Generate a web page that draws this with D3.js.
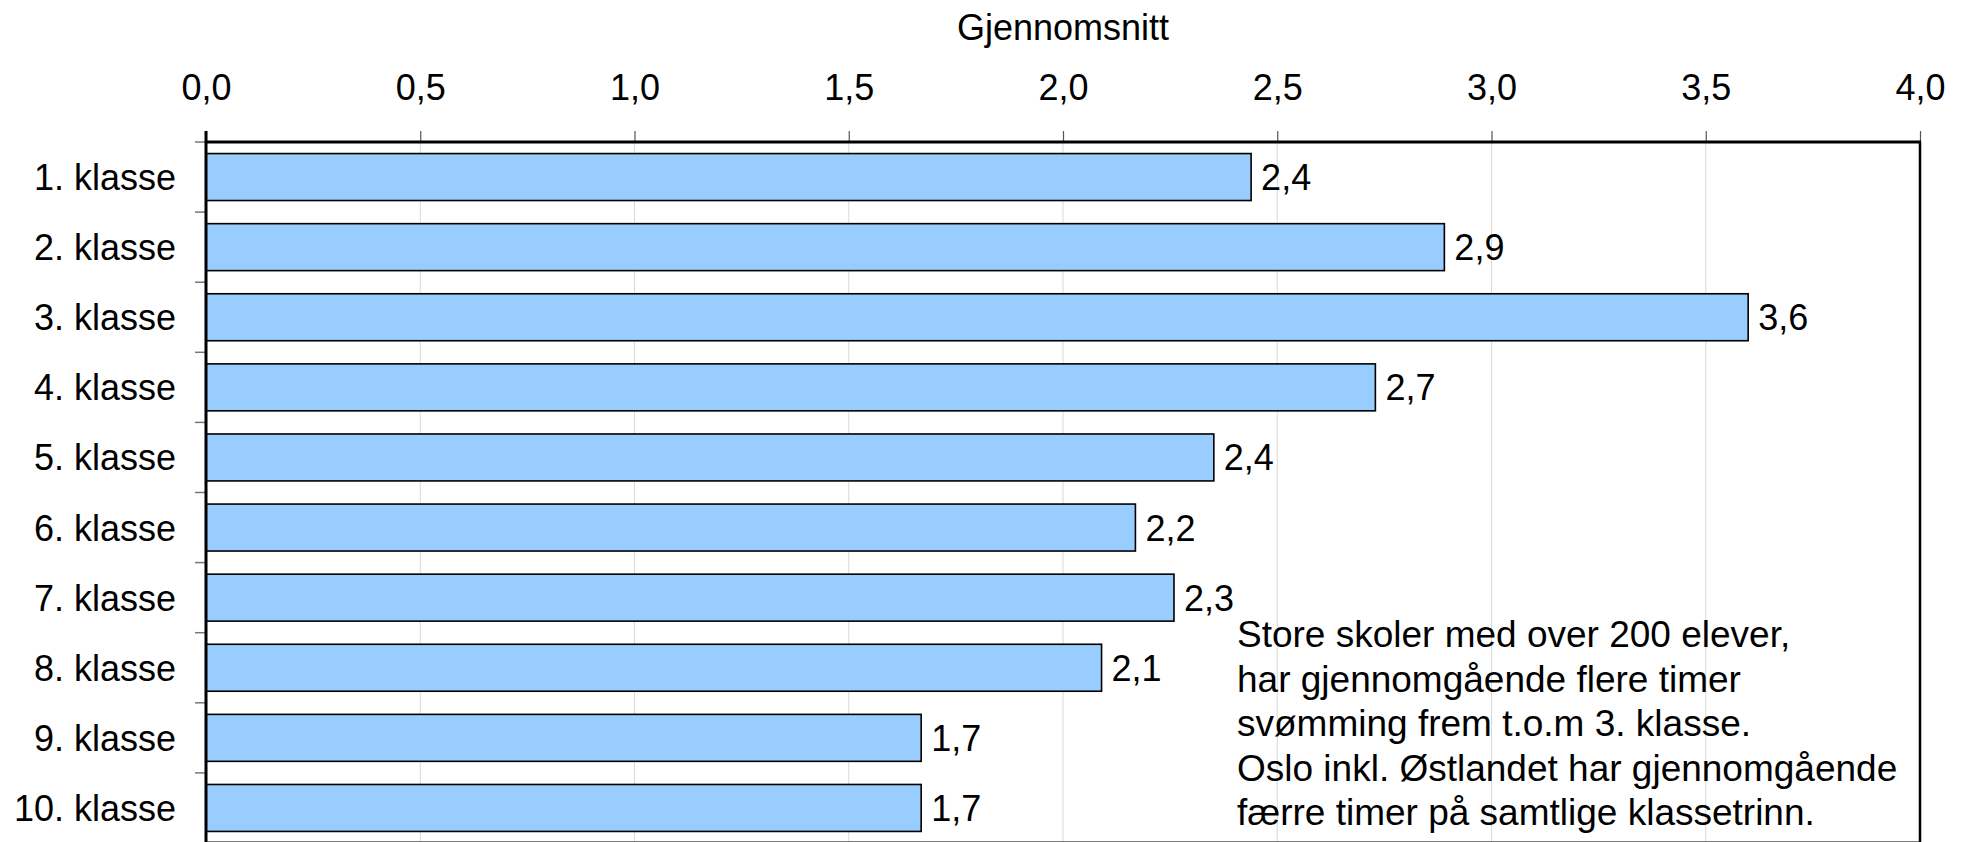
<!DOCTYPE html>
<html>
<head>
<meta charset="utf-8">
<script src="https://cdn.jsdelivr.net/npm/d3@7"></script>
<style>
  body { margin: 0; background: #fff; }
  svg { display: block; font-family: Arial, "Liberation Sans", sans-serif; }
</style>
</head>
<body>
<svg id="viz"></svg>
<script>
const categories = ["1. klasse", "2. klasse", "3. klasse", "4. klasse", "5. klasse",
                    "6. klasse", "7. klasse", "8. klasse", "9. klasse", "10. klasse"]
const values = [2.439, 2.890, 3.599, 2.729, 2.352, 2.169, 2.259, 2.090, 1.669, 1.669]
const xTicks = [0, 0.5, 1, 1.5, 2, 2.5, 3, 3.5, 4]
const axisTitle = "Gjennomsnitt"
const note = [
    "Store skoler med over 200 elever,",
    "har gjennomgående flere timer",
    "svømming frem t.o.m 3. klasse.",
    "Oslo inkl. Østlandet har gjennomgående",
    "færre timer på samtlige klassetrinn."
]

const width = 1966
const height = 842
const margin = { top: 142, right: 46, left: 206 }
const plotBottom = 843

const no = d3.formatLocale({ decimal: ",", thousands: " ", grouping: [3], currency: ["", " kr"] })
const fmt = no.format(".1f")

const svg = d3.select("#viz").attr("width", width).attr("height", height)

const x = d3.scaleLinear()
    .domain([0, 4])
    .range([margin.left, width - margin.right])

const y = d3.scaleBand()
    .domain(categories)
    .range([margin.top, plotBottom])
    .paddingInner(0.33)
    .paddingOuter(0.165)

// gridlines
svg.append("g")
    .selectAll("line")
    .data(xTicks.slice(1, -1))
    .join("line")
    .attr("x1", d => x(d)).attr("x2", d => x(d))
    .attr("y1", margin.top).attr("y2", plotBottom)
    .attr("stroke", "#d9d9d9")
    .attr("stroke-width", 1)

// top axis
svg.append("g")
    .attr("transform", `translate(0,${margin.top})`)
    .call(d3.axisTop(x).tickValues(xTicks).tickFormat(fmt).tickSize(11).tickPadding(31).tickSizeOuter(0))
    .call(g => g.select(".domain").remove())
    .call(g => g.selectAll(".tick line").attr("stroke", "#555").attr("stroke-width", 1.2))
    .call(g => g.selectAll(".tick text").attr("font-size", 36).attr("fill", "#000")
        .attr("font-family", "Arial, 'Liberation Sans', sans-serif"))

svg.append("text")
    .attr("x", (x(0) + x(4)) / 2)
    .attr("y", 40)
    .attr("text-anchor", "middle")
    .attr("font-size", 36)
    .text(axisTitle)

// bars
svg.append("g")
    .selectAll("rect")
    .data(categories)
    .join("rect")
    .attr("x", x(0))
    .attr("y", d => y(d))
    .attr("width", (d, i) => x(values[i]) - x(0))
    .attr("height", y.bandwidth())
    .attr("fill", "#99ccff")
    .attr("stroke", "#000")
    .attr("stroke-width", 1.6)

// value labels
svg.append("g")
    .selectAll("text")
    .data(categories)
    .join("text")
    .attr("x", (d, i) => x(values[i]) + 10)
    .attr("y", d => y(d) + y.bandwidth() / 2)
    .attr("dy", "0.36em")
    .attr("font-size", 36)
    .text((d, i) => fmt(values[i]))

// category labels and left ticks at band edges
const edge = y.step() * y.paddingInner() / 2
svg.append("g")
    .selectAll("line")
    .data(categories)
    .join("line")
    .attr("x1", x(0) - 11).attr("x2", x(0))
    .attr("y1", d => y(d) - edge).attr("y2", d => y(d) - edge)
    .attr("stroke", "#777")
    .attr("stroke-width", 1.5)

svg.append("g")
    .selectAll("text")
    .data(categories)
    .join("text")
    .attr("x", x(0) - 30)
    .attr("y", d => y(d) + y.bandwidth() / 2)
    .attr("dy", "0.36em")
    .attr("text-anchor", "end")
    .attr("font-size", 36)
    .text(d => d)

// frame
svg.append("line")
    .attr("x1", x(0) - 1).attr("x2", x(4) + 1)
    .attr("y1", margin.top).attr("y2", margin.top)
    .attr("stroke", "#000").attr("stroke-width", 3)
svg.append("line")
    .attr("x1", x(0)).attr("x2", x(0))
    .attr("y1", margin.top - 11).attr("y2", plotBottom)
    .attr("stroke", "#000").attr("stroke-width", 3)
svg.append("line")
    .attr("x1", x(4)).attr("x2", x(4))
    .attr("y1", margin.top).attr("y2", plotBottom)
    .attr("stroke", "#000").attr("stroke-width", 2.5)
svg.append("line")
    .attr("x1", x(0)).attr("x2", x(4))
    .attr("y1", plotBottom).attr("y2", plotBottom)
    .attr("stroke", "#000").attr("stroke-width", 3)

// note
svg.append("text")
    .attr("x", 1237)
    .attr("y", 647)
    .attr("font-size", 37)
    .selectAll("tspan")
    .data(note)
    .join("tspan")
    .attr("x", 1237)
    .attr("dy", (d, i) => i === 0 ? 0 : 44.5)
    .text(d => d)
</script>
</body>
</html>
